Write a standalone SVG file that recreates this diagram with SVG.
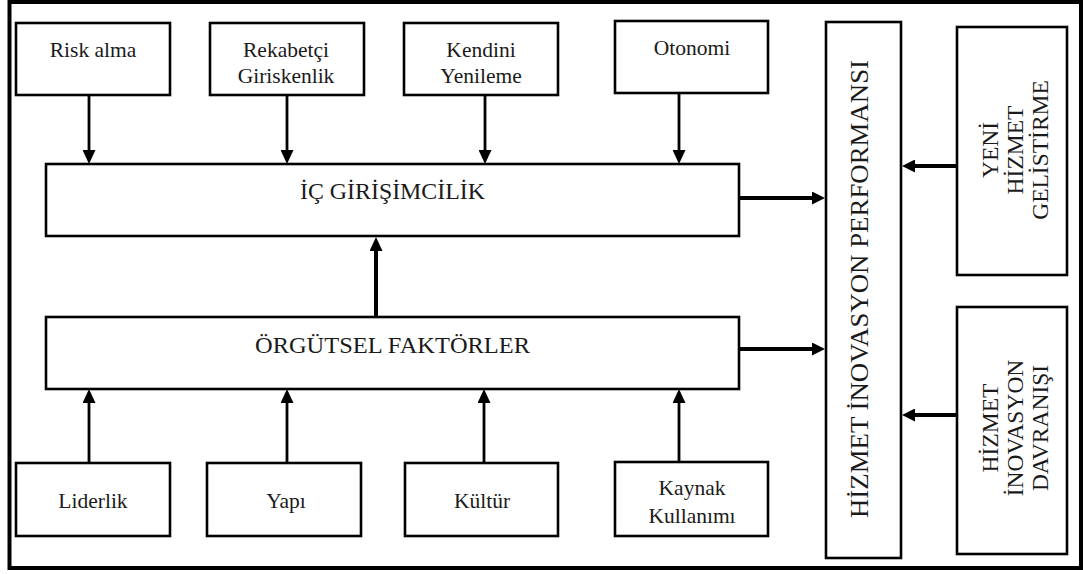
<svg xmlns="http://www.w3.org/2000/svg" width="1083" height="574" viewBox="0 0 1083 574">
<style>
.box{fill:#fff;stroke:#000;stroke-width:2.6}
text{font-family:'Liberation Serif','Times New Roman',serif;fill:#1a1a1a;text-anchor:middle}
.s{font-size:21.5px}
.b{font-size:23px}
.v{font-size:23.5px}
.c{stroke:#000;fill:none}
.thin{stroke-width:2.8}
.thick{stroke-width:4}
</style>
<defs>
<marker id="ah" viewBox="0 0 14 13" markerWidth="14" markerHeight="13" refX="2" refY="6.5" orient="auto" markerUnits="userSpaceOnUse">
<path d="M0,0 L14,6.5 L0,13 z" fill="#000"/>
</marker>
<marker id="ahs" viewBox="0 0 13 13" markerWidth="13" markerHeight="13" refX="2" refY="6.5" orient="auto" markerUnits="userSpaceOnUse">
<path d="M0,0 L13,6.5 L0,13 z" fill="#000"/>
</marker>
</defs>
<rect x="9.5" y="2" width="1071.5" height="566" fill="#fff" stroke="#000" stroke-width="4"/>
<g id="connectors">
<line class="c thin" x1="89" y1="95" x2="89" y2="152" marker-end="url(#ah)"/>
<line class="c thin" x1="287" y1="95" x2="287" y2="152" marker-end="url(#ah)"/>
<line class="c thin" x1="485" y1="95" x2="485" y2="152" marker-end="url(#ah)"/>
<line class="c thin" x1="679" y1="93" x2="679" y2="152" marker-end="url(#ah)"/>
<line class="c thin" x1="89" y1="463" x2="89" y2="401" marker-end="url(#ah)"/>
<line class="c thin" x1="287" y1="463" x2="287" y2="401" marker-end="url(#ah)"/>
<line class="c thin" x1="484" y1="463" x2="484" y2="401" marker-end="url(#ah)"/>
<line class="c thin" x1="679" y1="462" x2="679" y2="401" marker-end="url(#ah)"/>
<line class="c thick" x1="376" y1="317" x2="376" y2="249" marker-end="url(#ah)"/>
<line class="c thick" x1="739" y1="198" x2="814" y2="198" marker-end="url(#ahs)"/>
<line class="c thick" x1="739" y1="349" x2="814" y2="349" marker-end="url(#ahs)"/>
<line class="c thick" x1="957" y1="166" x2="913" y2="166" marker-end="url(#ahs)"/>
<line class="c thick" x1="957" y1="415" x2="913" y2="415" marker-end="url(#ahs)"/>
</g>
<g id="risk-alma"><rect class="box" x="16" y="23" width="154" height="72"/><text class="s" x="93" y="57">Risk alma</text></g>
<g id="rekabetci"><rect class="box" x="210" y="23" width="154" height="72"/><text class="s" x="286" y="57">Rekabetçi</text><text class="s" x="286" y="83">Giriskenlik</text></g>
<g id="kendini"><rect class="box" x="404" y="23" width="154" height="72"/><text class="s" x="481" y="57">Kendini</text><text class="s" x="481" y="83">Yenileme</text></g>
<g id="otonomi"><rect class="box" x="615" y="21" width="153" height="72"/><text class="s" x="692" y="55">Otonomi</text></g>
<g id="ic-girisimcilik"><rect class="box" x="46" y="164" width="693" height="72"/><text class="b" x="392.5" y="199" textLength="185" lengthAdjust="spacingAndGlyphs">İÇ GİRİŞİMCİLİK</text></g>
<g id="orgutsel"><rect class="box" x="46" y="317" width="693" height="72"/><text class="b" x="392.5" y="353" textLength="275" lengthAdjust="spacingAndGlyphs">ÖRGÜTSEL FAKTÖRLER</text></g>
<g id="liderlik"><rect class="box" x="16" y="463" width="154" height="73"/><text class="s" x="93" y="508">Liderlik</text></g>
<g id="yapi"><rect class="box" x="207" y="463" width="154" height="73"/><text class="s" x="286" y="508">Yapı</text></g>
<g id="kultur"><rect class="box" x="405" y="463" width="153" height="73"/><text class="s" x="482" y="508">Kültür</text></g>
<g id="kaynak"><rect class="box" x="615" y="462" width="153" height="74"/><text class="s" x="692" y="495">Kaynak</text><text class="s" x="692" y="523">Kullanımı</text></g>
<g id="performans"><rect class="box" x="826" y="22" width="75" height="536"/><text transform="translate(868,289) rotate(-90)" x="0" y="0" style="font-size:24.5px" textLength="458" lengthAdjust="spacingAndGlyphs">HİZMET İNOVASYON PERFORMANSI</text></g>
<g id="yeni-hizmet"><rect class="box" x="957" y="27" width="110" height="248" stroke-width="3"/>
<g transform="translate(0,150) rotate(-90)"><text class="v" x="0" y="998">YENİ</text><text class="v" x="0" y="1023">HİZMET</text><text class="v" x="0" y="1048">GELİSTİRME</text></g></g>
<g id="hizmet-davranis"><rect class="box" x="957" y="307" width="110" height="247" stroke-width="3"/>
<g transform="translate(0,428) rotate(-90)"><text class="v" x="0" y="998">HİZMET</text><text class="v" x="0" y="1023">İNOVASYON</text><text class="v" x="0" y="1048">DAVRANIŞI</text></g></g>
</svg>
